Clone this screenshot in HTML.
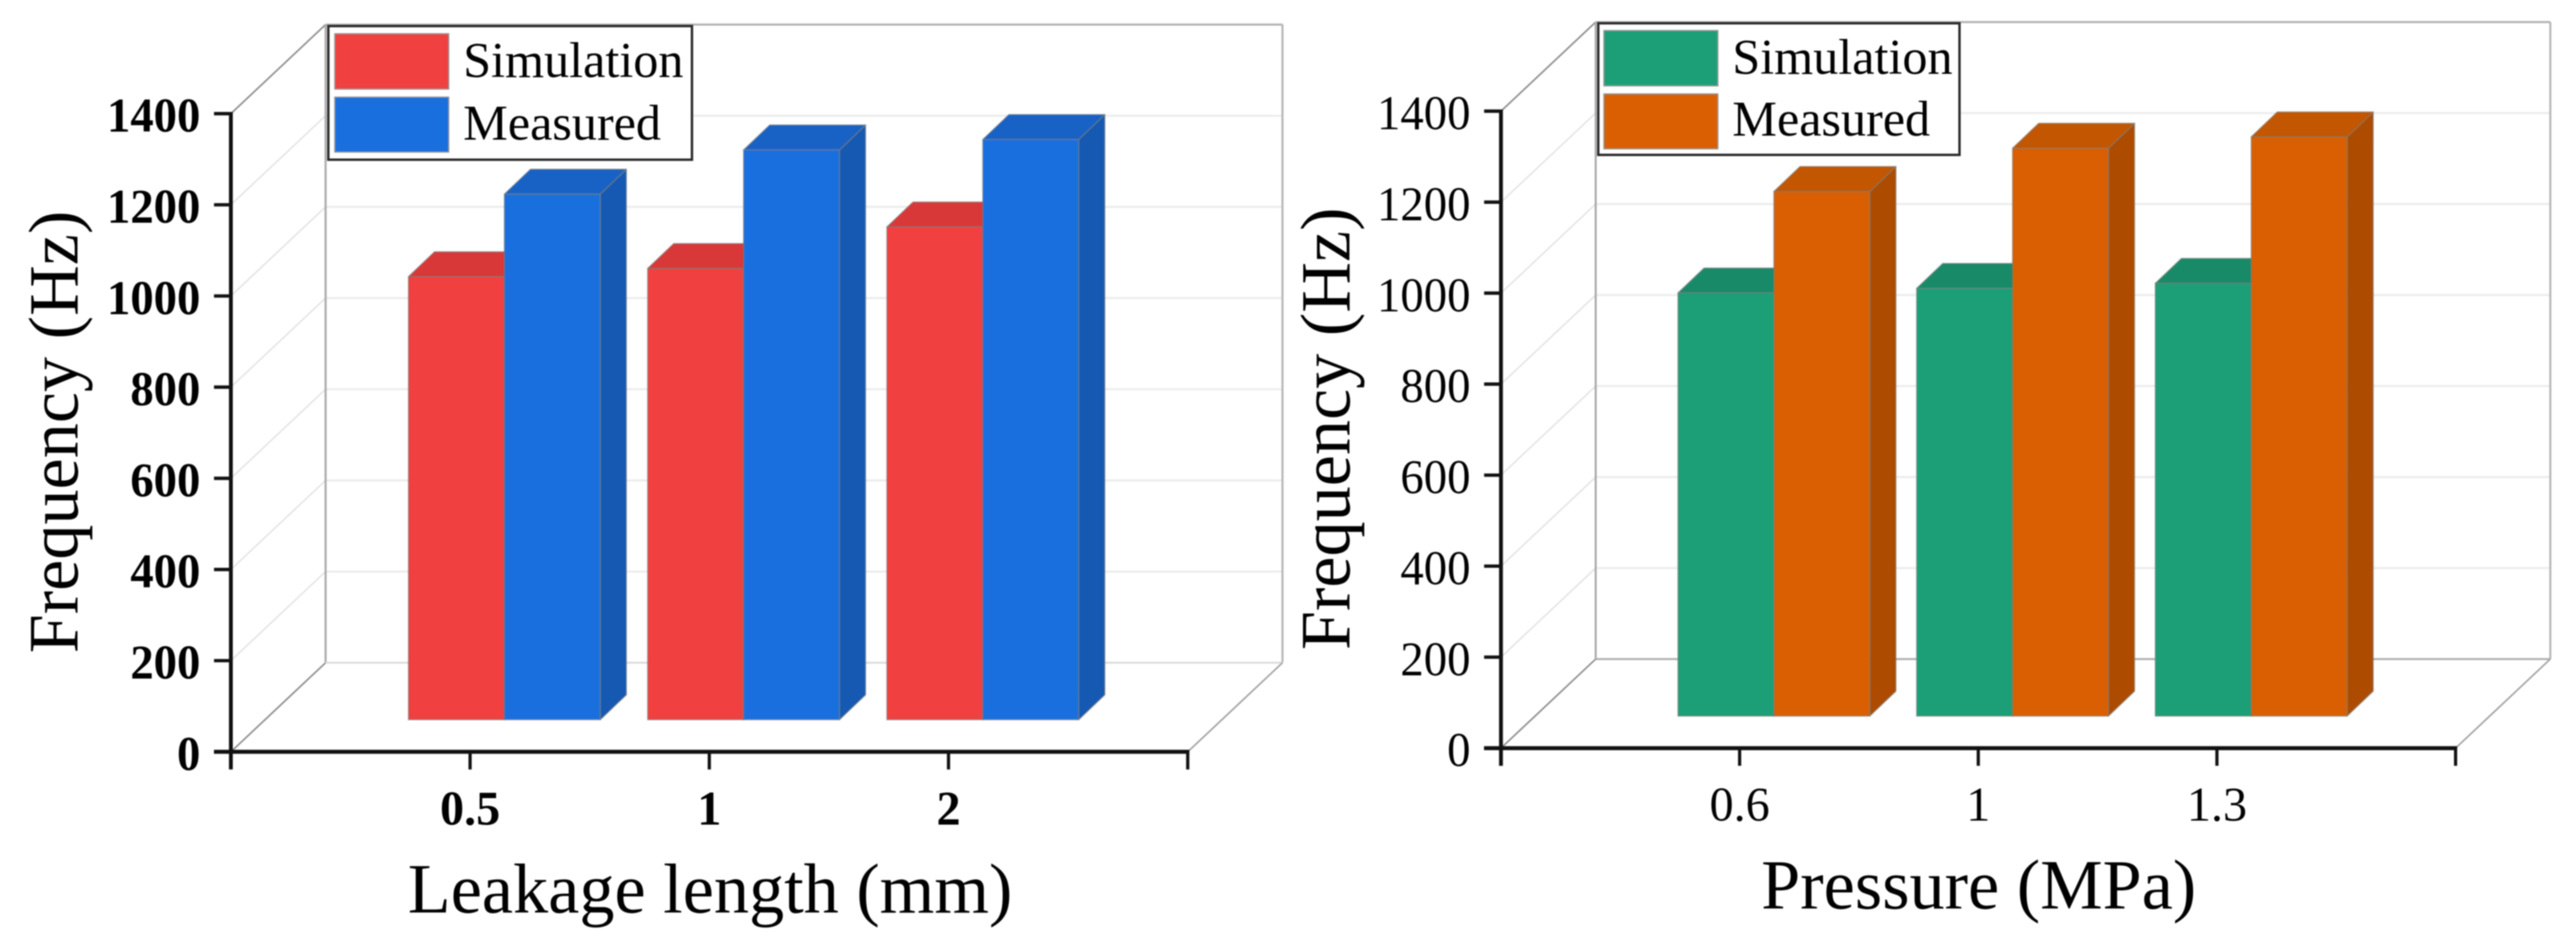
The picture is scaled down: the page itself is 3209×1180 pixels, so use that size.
<!DOCTYPE html>
<html lang="en">
<head>
<meta charset="utf-8">
<title>Frequency comparison charts</title>
<style>
  html, body { margin: 0; padding: 0; background: #fff; }
  svg { display: block; filter: blur(0.7px); }
  text { font-family: "Liberation Serif", "Times New Roman", serif; fill: #000; }
  .title { font-size: 87.5px; }
  .legend-label { font-size: 62.5px; }
</style>
</head>
<body>
<svg id="figure" xmlns="http://www.w3.org/2000/svg" width="3209" height="1180" viewBox="0 0 3209 1180">
  <rect x="0" y="0" width="3209" height="1180" fill="#ffffff"/>
  <g id="panel-left"></g>
  <g id="panel-right"></g>

  <g>
    <rect x="409" y="32.5" width="453" height="166.5" fill="#fff" stroke="#2a2a2a" stroke-width="3"/>
    <rect x="417" y="42" width="142" height="69" fill="#F04040" stroke="#999" stroke-width="1.5"/>
    <rect x="417" y="121" width="142" height="68.5" fill="#1A6FDF" stroke="#999" stroke-width="1.5"/>
    <text class="legend-label" x="577" y="96">Simulation</text>
    <text class="legend-label" x="577" y="174">Measured</text>
  </g>
  <g>
    <rect x="1991" y="29" width="450" height="164" fill="#fff" stroke="#2a2a2a" stroke-width="3"/>
    <rect x="1998" y="38" width="142" height="69" fill="#1C9F76" stroke="#999" stroke-width="1.5"/>
    <rect x="1998" y="117" width="142" height="68.5" fill="#D95F02" stroke="#999" stroke-width="1.5"/>
    <text class="legend-label" x="2158" y="92">Simulation</text>
    <text class="legend-label" x="2158" y="169">Measured</text>
  </g>

  <text class="title" transform="translate(96.5 814) rotate(-90)">Frequency (Hz)</text>
  <text class="title" transform="translate(1681 810) rotate(-90)">Frequency (Hz)</text>
  <text class="title" x="508" y="1137">Leakage length (mm)</text>
  <text class="title" x="2194" y="1132">Pressure (MPa)</text>
</svg>

<script>
// ---- chart data ----
const yTickValues = [0, 200, 400, 600, 800, 1000, 1200, 1400];
const leakageCategories = ['0.5', '1', '2'];
const leakageSimulation = [972, 990, 1081];
const leakageMeasured = [1153, 1250, 1273];
const pressureCategories = ['0.6', '1', '1.3'];
const pressureSimulation = [930, 940, 951];
const pressureMeasured = [1153, 1248, 1273];

const SVG_NS = 'http://www.w3.org/2000/svg';

function drawPanel(root, cfg, categories, simValues, measValues) {
  const yMax = yTickValues[yTickValues.length - 1];
  const yFront = v => cfg.y0 - v / yMax * (cfg.y0 - cfg.yTop);
  const slotW = (cfg.xEnd - cfg.x0) / (categories.length + 1);
  const xTick = i => cfg.x0 + (i + 1) * slotW;
  const wallDx = 118, wallDy = -111;

  function line(x1, y1, x2, y2, color, width) {
    const el = document.createElementNS(SVG_NS, 'line');
    el.setAttribute('x1', x1);
    el.setAttribute('y1', y1);
    el.setAttribute('x2', x2);
    el.setAttribute('y2', y2);
    el.setAttribute('stroke', color);
    el.setAttribute('stroke-width', width);
    root.appendChild(el);
    return el;
  }
  function poly(points, fill) {
    const el = document.createElementNS(SVG_NS, 'polygon');
    el.setAttribute('points', points.map(p => p.join(',')).join(' '));
    el.setAttribute('fill', fill);
    el.setAttribute('stroke', cfg.edge);
    el.setAttribute('stroke-width', 1.5);
    el.setAttribute('stroke-linejoin', 'round');
    root.appendChild(el);
    return el;
  }

  // Gridlines on the back wall and matching diagonals on the side wall
  yTickValues.forEach((v, k) => {
    const y = yFront(v);
    const isEnd = k === 0 || k === yTickValues.length - 1;
    if (k > 0 && k < yTickValues.length - 1) {
      const grid = line(cfg.x0 + wallDx, y + wallDy, cfg.xEnd + wallDx, y + wallDy, '#ececec', 2.5);
      
      
    }
    const diag = line(cfg.x0, y, cfg.x0 + wallDx, y + wallDy, isEnd ? '#8c8c8c' : '#e2e2e2', isEnd ? 2 : 1.8);
    
    
  });

  // Back wall frame
  const wallTop = yFront(yMax) + wallDy;
  const wallBottom = yFront(0) + wallDy;
  const frameL = line(cfg.x0 + wallDx, wallTop, cfg.x0 + wallDx, wallBottom, '#a8a8a8', 2.5);
  
  
  const frameR = line(cfg.xEnd + wallDx, wallTop, cfg.xEnd + wallDx, wallBottom, '#b4b4b4', 2.5);
  
  
  const frameT = line(cfg.x0 + wallDx, wallTop, cfg.xEnd + wallDx, wallTop, '#b0b0b0', 2.5);
  
  
  const frameB = line(cfg.x0 + wallDx, wallBottom, cfg.xEnd + wallDx, wallBottom, cfg.floorLine, 2.5);
  
  
  const floorDiag = line(cfg.xEnd, yFront(0), cfg.xEnd + wallDx, wallBottom, '#a0a0a0', 2);
  
  

  // Bars
  const base = yFront(0) - 40;
  const barW = 119.5, depthX = 32.5, depthY = 31;
  const barY = v => base - v / yMax * (cfg.y0 - cfg.yTop);
  function bar(xLeft, value, colors, seriesName, catName) {
    const top = barY(value);
    const xRight = xLeft + barW;
    const side = poly([[xRight, top], [xRight + depthX, top - depthY], [xRight + depthX, base - depthY], [xRight, base]], colors.side);
    
    
    const cap = poly([[xLeft, top], [xLeft + depthX, top - depthY], [xRight + depthX, top - depthY], [xRight, top]], colors.top);
    
    
    const front = poly([[xLeft, top], [xRight, top], [xRight, base], [xLeft, base]], colors.front);
    
    
  }
  categories.forEach((c, i) => {
    const mid = xTick(i) + 42.7;
    bar(mid - barW, simValues[i], cfg.simColors, 'simulation', c);
    bar(mid, measValues[i], cfg.measColors, 'measured', c);
  });

  // Axes
  const yAxis = line(cfg.x0, yFront(yMax) - 2, cfg.x0, yFront(0) + 22, '#111', 4.8);
  
  
  const xAxis = line(cfg.x0 - 21, yFront(0), cfg.xEnd + 2, yFront(0), '#111', 5);
  
  
  const xEndTick = line(cfg.xEnd, yFront(0), cfg.xEnd, yFront(0) + 22, '#111', 4);
  
  

  yTickValues.forEach(v => {
    const y = yFront(v);
    const tick = line(cfg.x0 - 21, y, cfg.x0, y, '#111', 4.2);
    
    
    const label = document.createElementNS(SVG_NS, 'text');
    label.setAttribute('transform', 'translate(' + (cfg.x0 - 38) + ' ' + (y + 22.5) + ') scale(0.97 1)');
    label.setAttribute('text-anchor', 'end');
    label.setAttribute('font-size', 60);
    label.setAttribute('font-weight', cfg.labelWeight);
    label.textContent = v;
    
    
    root.appendChild(label);
  });

  categories.forEach((c, i) => {
    const x = xTick(i);
    const tick = line(x, yFront(0), x, yFront(0) + 22, '#111', 4);
    
    
    const label = document.createElementNS(SVG_NS, 'text');
    label.setAttribute('x', x);
    label.setAttribute('y', yFront(0) + 90.5);
    label.setAttribute('text-anchor', 'middle');
    label.setAttribute('font-size', 60);
    label.setAttribute('font-weight', cfg.labelWeight);
    label.textContent = c;
    
    
    root.appendChild(label);
  });
}

drawPanel(document.getElementById('panel-left'), {
  x0: 287.6, xEnd: 1479.6, y0: 936.8, yTop: 141.6,
  labelWeight: 'bold', edge: 'rgba(125,125,125,0.6)', floorLine: '#dcdcdc',
  simColors: { front: '#F04040', top: '#D93838', side: '#C43333' },
  measColors: { front: '#1A6FDF', top: '#1862C6', side: '#1559B2' }
}, leakageCategories, leakageSimulation, leakageMeasured);

drawPanel(document.getElementById('panel-right'), {
  x0: 1869.8, xEnd: 3059, y0: 932.2, yTop: 138.5,
  labelWeight: 'normal', edge: 'rgba(125,125,125,0.6)', floorLine: '#b0b0b0',
  simColors: { front: '#1C9F76', top: '#198A68', side: '#16805F' },
  measColors: { front: '#D95F02', top: '#C35600', side: '#AD4C01' }
}, pressureCategories, pressureSimulation, pressureMeasured);
</script>
</body>
</html>
